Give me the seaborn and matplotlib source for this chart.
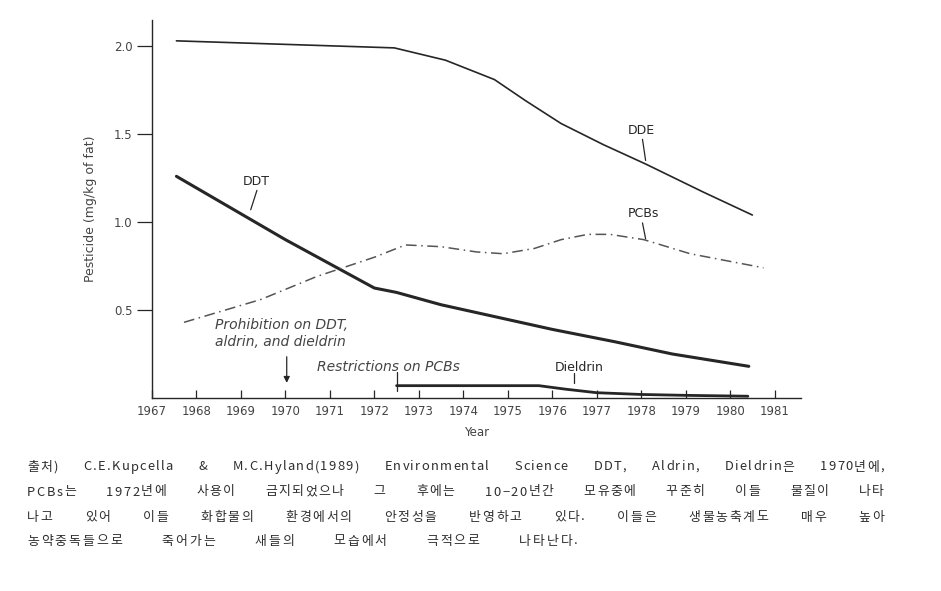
import matplotlib
matplotlib.use("Agg")
import matplotlib.pyplot as plt
import seaborn as sns
import pandas as pd

# ---- data ----
dde_years = [1967.55, 1970.0, 1972.45, 1973.6, 1974.7, 1975.4, 1976.2, 1977.15, 1978.1, 1979.4, 1980.5]
dde_vals = [2.03, 2.01, 1.99, 1.92, 1.81, 1.69, 1.56, 1.44, 1.33, 1.17, 1.04]

ddt_years = [1967.55, 1970.0, 1972.0, 1972.5, 1973.5, 1974.75, 1976.0, 1977.4, 1978.7, 1980.42]
ddt_vals = [1.26, 0.90, 0.625, 0.60, 0.53, 0.46, 0.39, 0.32, 0.25, 0.18]

pcb_years = [1967.72, 1969.45, 1970.7, 1972.0, 1972.7, 1973.5, 1974.3, 1974.9, 1975.6, 1976.2, 1976.8, 1977.3, 1978.06, 1979.1, 1980.75]
pcb_vals = [0.43, 0.56, 0.69, 0.80, 0.87, 0.86, 0.83, 0.82, 0.85, 0.90, 0.93, 0.93, 0.90, 0.82, 0.74]

die_years = [1972.5, 1973.5, 1974.5, 1975.7, 1976.3, 1977.0, 1978.0, 1979.0, 1980.4]
die_vals = [0.07, 0.07, 0.07, 0.07, 0.05, 0.03, 0.02, 0.015, 0.01]

year_ticks = list(range(1967, 1982))
y_ticks = [0.5, 1.0, 1.5, 2.0]

caption_lines = [
    "출처) C.E.Kupcella & M.C.Hyland(1989) Environmental Science DDT, Aldrin, Dieldrin은 1970년에,",
    "PCBs는 1972년에 사용이 금지되었으나 그 후에는 10−20년간 모유중에 꾸준히 이들 물질이 나타",
    "나고 있어 이들 화합물의 환경에서의 안정성을 반영하고 있다. 이들은 생물농축계도 매우 높아",
    "농약중독들으로 죽어가는 새들의 모습에서 극적으로 나타난다.",
]

# ---- style ----
sns.set_theme(style="ticks")
plt.rcParams["font.family"] = ["DejaVu Sans", "Noto Sans CJK KR"]
ink = "#262626"
soft = "#444444"

fig = plt.figure(figsize=(9.41, 5.91), dpi=100)
ax = fig.add_axes([0.1615, 0.3266, 0.69, 0.64])

df_dde = pd.DataFrame({"Year": dde_years, "v": dde_vals})
df_ddt = pd.DataFrame({"Year": ddt_years, "v": ddt_vals})
df_pcb = pd.DataFrame({"Year": pcb_years, "v": pcb_vals})
df_die = pd.DataFrame({"Year": die_years, "v": die_vals})

sns.lineplot(data=df_dde, x="Year", y="v", ax=ax, color=ink, lw=1.2)
sns.lineplot(data=df_ddt, x="Year", y="v", ax=ax, color=ink, lw=2.2)
sns.lineplot(data=df_pcb, x="Year", y="v", ax=ax, color="#555555", lw=1.1,
             linestyle=(0, (7, 3, 1, 3)))
sns.lineplot(data=df_die, x="Year", y="v", ax=ax, color=ink, lw=2.0)

ax.set_xlim(1967, 1981.6)
ax.set_ylim(0, 2.15)
ax.set_xticks(year_ticks)
ax.set_xticklabels([str(y) for y in year_ticks], fontsize=8.5, color=soft)
ax.set_yticks(y_ticks)
ax.set_yticklabels([f"{v:.1f}" for v in y_ticks], fontsize=8.5, color=soft)
ax.tick_params(axis="x", direction="in", length=6, width=0.9, color=ink, pad=5)
ax.tick_params(axis="y", direction="out", length=11, width=0.9, color=ink, pad=3)
for s in ["top", "right"]:
    ax.spines[s].set_visible(False)
for s in ["left", "bottom"]:
    ax.spines[s].set_color(ink)
    ax.spines[s].set_linewidth(1.0)

ax.set_xlabel("Year", fontsize=8.5, color=soft, labelpad=6)
ax.set_ylabel("Pesticide (mg/kg of fat)", fontsize=9, color=soft, labelpad=12)

# ---- annotations ----
lab_kw = dict(fontsize=9, color=ink, ha="center", va="center")
ax.text(1969.34, 1.23, "DDT", **lab_kw)
ax.plot([1969.36, 1969.22], [1.18, 1.07], color=ink, lw=0.9)
ax.text(1978.0, 1.52, "DDE", **lab_kw)
ax.plot([1978.03, 1978.1], [1.47, 1.35], color=ink, lw=0.9)
ax.text(1978.05, 1.05, "PCBs", **lab_kw)
ax.plot([1978.03, 1978.1], [0.995, 0.905], color=ink, lw=0.9)
ax.text(1976.6, 0.176, "Dieldrin", **lab_kw)
ax.plot([1976.48, 1976.48], [0.14, 0.085], color=ink, lw=0.9)

ax.text(1968.42, 0.365, "Prohibition on DDT,\naldrin, and dieldrin", fontsize=10,
        style="italic", color=soft, ha="left", va="center", linespacing=1.25)
ax.annotate("", xy=(1970.03, 0.07), xytext=(1970.03, 0.25),
            arrowprops=dict(arrowstyle="-|>", color=ink, lw=0.9, mutation_scale=9))
ax.text(1970.7, 0.176, "Restrictions on PCBs", fontsize=10, style="italic",
        color=soft, ha="left", va="center")
ax.plot([1972.5, 1972.5], [0.15, 0.04], color=ink, lw=0.9)

# ---- caption (justified with light letter tracking) ----
ys = [467, 492, 517, 541]
rights = [884, 884, 884, 578]
left_px = 27
word_gap_factor = 20.0
renderer = fig.canvas.get_renderer()
cap_kw = dict(fontsize=9.3, color="#2e2e2e", ha="left", va="center",
              family=["Noto Sans CJK KR", "DejaVu Sans"])


def text_width(s):
    t = fig.text(0, 0, s, **cap_kw)
    wd = t.get_window_extent(renderer).width
    t.remove()
    return wd


for line, yp, rp in zip(caption_lines, ys, rights):
    words = line.split(" ")
    layout = []
    total_nat = 0.0
    n_intra = 0
    for w in words:
        offs = [0.0] + [text_width(w[:i]) for i in range(1, len(w))]
        wn = text_width(w)
        layout.append((w, offs, wn))
        total_nat += wn
        n_intra += len(w) - 1
    n_gaps = len(words) - 1
    track = (rp - left_px - total_nat) / (n_intra + word_gap_factor * n_gaps)
    xp = left_px
    for w, offs, wn in layout:
        for i, ch in enumerate(w):
            fig.text((xp + offs[i] + track * i) / 941, 1 - yp / 591, ch, **cap_kw)
        xp += wn + track * (len(w) - 1) + word_gap_factor * track

fig.savefig("out.png", dpi=100)
